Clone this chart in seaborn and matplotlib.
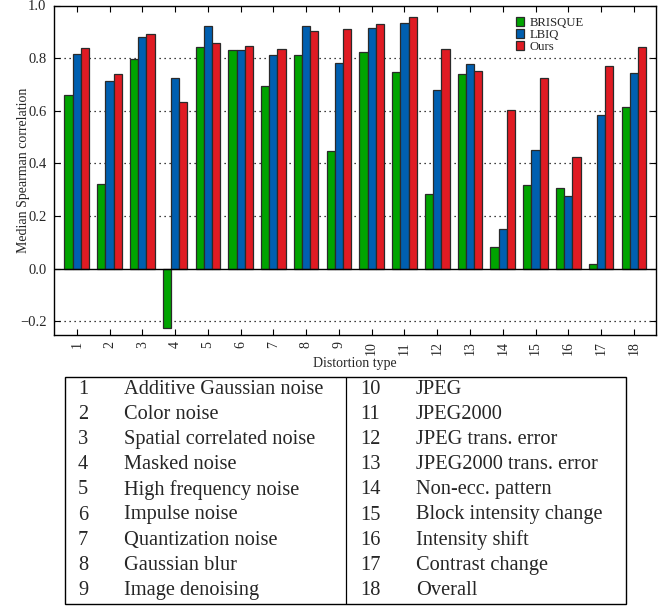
import matplotlib
matplotlib.use("Agg")
import matplotlib.pyplot as plt
import seaborn as sns
import pandas as pd
from matplotlib.patches import Rectangle

# Median Spearman correlation per distortion type
distortion_ids = list(range(1, 19))
brisque = [0.660, 0.321, 0.797, -0.225, 0.841, 0.830, 0.694, 0.811, 0.448,
           0.822, 0.746, 0.282, 0.741, 0.083, 0.318, 0.307, 0.019, 0.615]
lbiq = [0.816, 0.715, 0.882, 0.726, 0.922, 0.832, 0.812, 0.923, 0.783,
        0.913, 0.934, 0.678, 0.777, 0.149, 0.450, 0.276, 0.583, 0.744]
ours = [0.837, 0.739, 0.893, 0.635, 0.856, 0.846, 0.835, 0.902, 0.911,
        0.929, 0.956, 0.835, 0.753, 0.602, 0.724, 0.425, 0.769, 0.841]
methods = ["BRISQUE", "LBIQ", "Ours"]
palette = ["#00a400", "#005fb0", "#e01b23"]

distortion_names = [
    "Additive Gaussian noise", "Color noise", "Spatial correlated noise",
    "Masked noise", "High frequency noise", "Impulse noise",
    "Quantization noise", "Gaussian blur", "Image denoising",
    "JPEG", "JPEG2000", "JPEG trans. error", "JPEG2000 trans. error",
    "Non-ecc. pattern", "Block intensity change", "Intensity shift",
    "Contrast change", "Overall",
]

df = pd.DataFrame({
    "Distortion type": [str(i) for i in distortion_ids] * 3,
    "Method": sum([[m] * len(distortion_ids) for m in methods], []),
    "Median Spearman correlation": brisque + lbiq + ours,
})

sns.set_theme(style="white")
plt.rcParams["font.family"] = ["Liberation Serif", "DejaVu Serif"]
plt.rcParams["axes.unicode_minus"] = True

W, H = 663, 607
fig = plt.figure(figsize=(W / 100, H / 100), dpi=100)

# main bar chart
ax = fig.add_axes([53.5 / W, 1 - 334.5 / H, (655.5 - 53.5) / W, (334.5 - 5.5) / H])
sns.barplot(data=df, x="Distortion type", y="Median Spearman correlation",
            hue="Method", palette=palette, width=0.75, saturation=1,
            edgecolor="#2a2a2a", linewidth=0.9, ax=ax, zorder=3)

ax.set_xlim(-0.71, 17.66)
ax.set_ylim(-0.25, 1.0)
ax.set_yticks([-0.2, 0.0, 0.2, 0.4, 0.6, 0.8, 1.0])
ax.set_yticklabels(["\u22120.2", "0.0", "0.2", "0.4", "0.6", "0.8", "1.0"], fontsize=10.5)
ax.tick_params(axis="x", labelrotation=90, labelsize=10)
ax.tick_params(direction="in", length=4, width=0.8, color="black",
               top=True, right=True, bottom=True, left=True, pad=5)
ax.set_xlabel("Distortion type", fontsize=10, labelpad=1)
ax.set_ylabel("Median Spearman correlation", fontsize=10)
ax.yaxis.set_label_coords(-0.039, 0.5)

for y in [-0.2, 0.2, 0.4, 0.6, 0.8]:
    ax.axhline(y, color="black", linestyle=(0, (1, 3)), linewidth=0.9, zorder=1)
ax.axhline(0.0, color="black", linewidth=1.0, zorder=4)

for side in ax.spines.values():
    side.set_color("black")
    side.set_linewidth(1.0)

handles, labels = ax.get_legend_handles_labels()
ax.legend(handles, labels, loc="upper left", bbox_to_anchor=(0.768, 0.965),
          frameon=False, fontsize=9.2, handlelength=0.6, handleheight=0.6,
          handletextpad=0.5, labelspacing=0.0, borderaxespad=0, borderpad=0)

# key of distortion types
tab_l, tab_r, tab_t, tab_b = 65, 626, 377, 604
tax = fig.add_axes([tab_l / W, 1 - tab_b / H, (tab_r - tab_l) / W, (tab_b - tab_t) / H])
tax.set_xlim(tab_l, tab_r)
tax.set_ylim(tab_b, tab_t)
tax.axis("off")
tax.add_patch(Rectangle((tab_l, tab_t), tab_r - tab_l, tab_b - tab_t,
                        fill=False, edgecolor="black", linewidth=1.0, clip_on=False))
tax.plot([346, 346], [tab_t, tab_b], color="black", linewidth=0.9)

row0, step = 389, 25.2
for i, name in enumerate(distortion_names):
    col, row = divmod(i, 9)
    y = row0 + row * step
    num_x = 83 if col == 0 else 370
    name_x = 124 if col == 0 else 416
    tax.text(num_x, y, str(distortion_ids[i]), ha="center", va="center", fontsize=14.7)
    tax.text(name_x, y, name, ha="left", va="center", fontsize=14.7)

fig.savefig("out.png", dpi=100)
